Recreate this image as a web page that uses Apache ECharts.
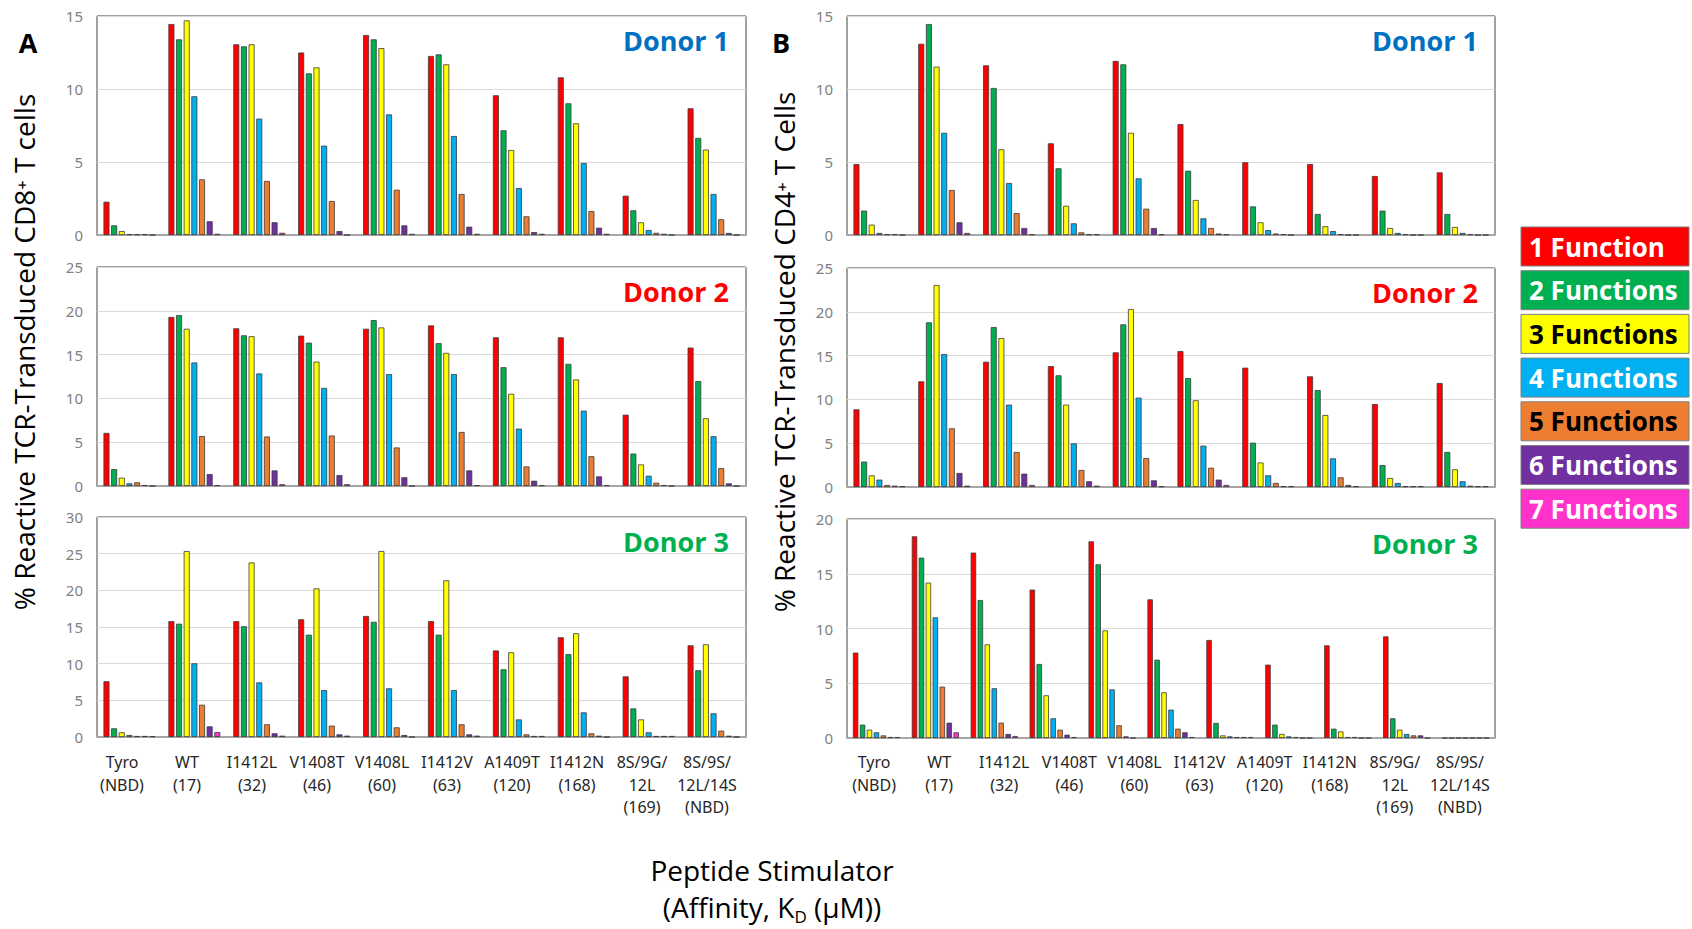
<!DOCTYPE html>
<html>
<head>
<meta charset="utf-8">
<script src="https://cdn.jsdelivr.net/npm/echarts@6.0.0/dist/echarts.min.js"></script>
<style>
html,body{margin:0;padding:0;background:#fff;}
#chart{width:1692px;height:929px;}
</style>
</head>
<body>
<div id="chart"></div>
<script>
var categories = ['Tyro\n(NBD)', 'WT\n(17)', 'I1412L\n(32)', 'V1408T\n(46)', 'V1408L\n(60)',
	'I1412V\n(63)', 'A1409T\n(120)', 'I1412N\n(168)', '8S/9G/\n12L\n(169)', '8S/9S/\n12L/14S\n(NBD)'];
var functionNames = ['1 Function', '2 Functions', '3 Functions', '4 Functions', '5 Functions', '6 Functions', '7 Functions'];
var functionColors = ['#FF0000', '#00B050', '#FFFF00', '#00B0F0', '#ED7D31', '#7030A0', '#FF33CC'];
var legendTextColors = ['#fff', '#fff', '#000', '#fff', '#000', '#fff', '#fff'];

// CD8+ (panel A), one row per number of functions
var cd8Donor1 = [
	[2.28, 14.45, 13.06, 12.5, 13.7, 12.26, 9.57, 10.8, 2.69, 8.68],
	[0.66, 13.4, 12.92, 11.07, 13.4, 12.37, 7.17, 9.02, 1.69, 6.65],
	[0.27, 14.7, 13.06, 11.48, 12.8, 11.69, 5.82, 7.65, 0.87, 5.85],
	[0.06, 9.5, 7.97, 6.12, 8.26, 6.78, 3.22, 4.93, 0.34, 2.81],
	[0.05, 3.81, 3.7, 2.33, 3.1, 2.81, 1.28, 1.64, 0.15, 1.08],
	[0.05, 0.94, 0.87, 0.27, 0.66, 0.57, 0.2, 0.5, 0.08, 0.14],
	[0, 0.08, 0.15, 0, 0.08, 0.08, 0.08, 0.08, 0, 0]
];
var cd8Donor2 = [
	[6.06, 19.3, 18.0, 17.16, 17.95, 18.33, 16.97, 16.97, 8.14, 15.8],
	[1.93, 19.5, 17.2, 16.36, 18.94, 16.3, 13.56, 13.94, 3.7, 11.97],
	[0.95, 17.95, 17.1, 14.2, 18.1, 15.2, 10.53, 12.16, 2.46, 7.73],
	[0.3, 14.1, 12.85, 11.2, 12.77, 12.77, 6.55, 8.6, 1.17, 5.68],
	[0.42, 5.7, 5.65, 5.76, 4.4, 6.17, 2.23, 3.4, 0.38, 2.05],
	[0.1, 1.36, 1.78, 1.25, 1.0, 1.78, 0.6, 1.1, 0.1, 0.3],
	[0, 0.1, 0.2, 0.2, 0, 0.1, 0.1, 0.1, 0, 0]
];
var cd8Donor3 = [
	[7.6, 15.8, 15.8, 16.05, 16.5, 15.8, 11.8, 13.6, 8.27, 12.5],
	[1.18, 15.45, 15.1, 13.95, 15.7, 13.95, 9.23, 11.3, 3.9, 9.1],
	[0.64, 25.36, 23.8, 20.27, 25.36, 21.36, 11.55, 14.14, 2.4, 12.64],
	[0.27, 10.05, 7.45, 6.4, 6.64, 6.4, 2.4, 3.36, 0.64, 3.23],
	[0.14, 4.4, 1.73, 1.55, 1.32, 1.73, 0.36, 0.5, 0.14, 0.86],
	[0.14, 1.45, 0.5, 0.36, 0.27, 0.36, 0.14, 0.18, 0.14, 0.18],
	[0.1, 0.68, 0.18, 0.18, 0, 0.18, 0.14, 0, 0.14, 0]
];
// CD4+ (panel B)
var cd4Donor1 = [
	[4.86, 13.1, 11.62, 6.28, 11.92, 7.6, 4.98, 4.86, 4.04, 4.29],
	[1.67, 14.45, 10.07, 4.57, 11.69, 4.4, 1.96, 1.44, 1.67, 1.44],
	[0.71, 11.53, 5.87, 2.0, 7.0, 2.4, 0.87, 0.6, 0.48, 0.55],
	[0.14, 7.0, 3.56, 0.8, 3.88, 1.14, 0.34, 0.27, 0.14, 0.14],
	[0.05, 3.08, 1.5, 0.18, 1.8, 0.48, 0.1, 0.05, 0.05, 0.05],
	[0.05, 0.87, 0.48, 0.05, 0.48, 0.1, 0.05, 0, 0, 0],
	[0, 0.14, 0.05, 0.05, 0.05, 0.05, 0, 0, 0, 0]
];
var cd4Donor2 = [
	[8.87, 12.06, 14.3, 13.8, 15.37, 15.52, 13.62, 12.63, 9.47, 11.87],
	[2.9, 18.8, 18.26, 12.75, 18.57, 12.44, 5.06, 11.07, 2.51, 4.0],
	[1.33, 23.06, 17.0, 9.4, 20.32, 9.9, 2.8, 8.22, 1.03, 2.02],
	[0.84, 15.18, 9.4, 4.98, 10.2, 4.72, 1.33, 3.27, 0.46, 0.65],
	[0.23, 6.7, 4.0, 1.94, 3.3, 2.2, 0.46, 1.1, 0.08, 0.15],
	[0.15, 1.6, 1.52, 0.65, 0.76, 0.84, 0.08, 0.23, 0.08, 0.08],
	[0.08, 0.15, 0.23, 0.15, 0.08, 0.23, 0.08, 0.08, 0.08, 0.08]
];
// donor 3 of panel B sits on 11 slots, the last one is empty
var cd4Donor3 = [
	[7.8, 18.42, 16.93, 13.55, 17.96, 12.66, 8.95, 6.7, 8.46, 9.28, 0],
	[1.22, 16.47, 12.6, 6.76, 15.86, 7.15, 1.37, 1.22, 0.85, 1.8, 0],
	[0.76, 14.19, 8.55, 3.9, 9.83, 4.17, 0.24, 0.37, 0.6, 0.76, 0],
	[0.52, 11.02, 4.54, 1.8, 4.44, 2.59, 0.15, 0.15, 0.09, 0.37, 0],
	[0.24, 4.69, 1.4, 0.76, 1.16, 0.85, 0.09, 0.09, 0.09, 0.24, 0],
	[0.09, 1.4, 0.37, 0.3, 0.15, 0.52, 0.09, 0, 0, 0.24, 0],
	[0.09, 0.52, 0.18, 0.09, 0, 0.09, 0.09, 0, 0, 0, 0]
];
var axisMax = [15, 25, 30, 15, 25, 20];
var donorNames = ['Donor 1', 'Donor 2', 'Donor 3', 'Donor 1', 'Donor 2', 'Donor 3'];
var donorColors = ['#0070C0', '#FF0000', '#00B050', '#0070C0', '#FF0000', '#00B050'];

var panels = [
	{data: cd8Donor1, left: 97, top: 16, width: 649, height: 219},
	{data: cd8Donor2, left: 97, top: 267, width: 649, height: 219},
	{data: cd8Donor3, left: 97, top: 517, width: 649, height: 220},
	{data: cd4Donor1, left: 847, top: 16, width: 648, height: 219},
	{data: cd4Donor2, left: 847, top: 268, width: 648, height: 219},
	{data: cd4Donor3, left: 847, top: 519, width: 648, height: 219}
];

var fontMain = "'Open Sans', 'Noto Sans', sans-serif";

var grid = [], xAxis = [], yAxis = [], series = [], graphic = [];

for (var p = 0; p < panels.length; p++) {
	var pn = panels[p];
	grid.push({left: pn.left, top: pn.top, width: pn.width, height: pn.height,
		show: true, borderColor: '#404040', borderWidth: 1, backgroundColor: '#fff'});
	xAxis.push({
		gridIndex: p, type: 'category',
		data: pn.data[0].length > categories.length ? categories.concat(['']) : categories,
		axisLine: {show: true, lineStyle: {color: '#a6a6a6', width: 2}},
		axisTick: {show: false},
		axisLabel: {show: false}
	});
	yAxis.push({
		gridIndex: p, type: 'value', min: 0, max: axisMax[p], interval: 5,
		axisLine: {show: false}, axisTick: {show: false},
		splitLine: {lineStyle: {color: '#d9d9d9', width: 1}},
		axisLabel: {color: '#7f7f7f', fontSize: 15, margin: 14, fontFamily: 'Noto Sans'}
	});
	for (var f = 0; f < functionNames.length; f++) {
		series.push({
			name: functionNames[f], type: 'bar', xAxisIndex: p, yAxisIndex: p,
			data: pn.data[f],
			barCategoryGap: '20%', barGap: '28%',
			itemStyle: {color: functionColors[f], borderColor: '#3a3a3a', borderWidth: 0.8},
			emphasis: {disabled: true}
		});
	}
	graphic.push({
		type: 'text', x: pn.left + pn.width - 17, y: pn.top + 24,
		style: {text: donorNames[p], fill: donorColors[p], font: "bold 27px " + fontMain,
			textAlign: 'right', textVerticalAlign: 'middle'}
	});
}

// label rows under each panel
var labelGrids = [{left: 89.5, width: 650}, {left: 841.5, width: 651}];
for (var k = 0; k < labelGrids.length; k++) {
	var gi = grid.length;
	grid.push({left: labelGrids[k].left, width: labelGrids[k].width, top: 737, height: 1});
	xAxis.push({
		gridIndex: gi, type: 'category', data: categories,
		axisLine: {show: false}, axisTick: {show: false},
		axisLabel: {interval: 0, color: '#262626', fontSize: 16, lineHeight: 22.5, margin: 13, fontFamily: 'Noto Sans'}
	});
	yAxis.push({gridIndex: gi, type: 'value', show: false});
}

// panel letters and axis titles
graphic.push({type: 'text', x: 28, y: 42, style: {text: 'A', font: 'bold 27px ' + fontMain, fill: '#000', textAlign: 'center', textVerticalAlign: 'middle'}});
graphic.push({type: 'text', x: 781, y: 42, style: {text: 'B', font: 'bold 27px ' + fontMain, fill: '#000', textAlign: 'center', textVerticalAlign: 'middle'}});
graphic.push({type: 'text', x: 24, y: 352, rotation: Math.PI / 2,
	style: {text: '% Reactive TCR-Transduced CD8\u207A T cells', font: '28px ' + fontMain, fill: '#000', textAlign: 'center', textVerticalAlign: 'middle'}});
graphic.push({type: 'text', x: 784, y: 352, rotation: Math.PI / 2,
	style: {text: '% Reactive TCR-Transduced CD4\u207A T Cells', font: '28px ' + fontMain, fill: '#000', textAlign: 'center', textVerticalAlign: 'middle'}});
graphic.push({type: 'text', x: 772, y: 870,
	style: {text: 'Peptide Stimulator', font: '28px ' + fontMain, fill: '#000', textAlign: 'center', textVerticalAlign: 'middle'}});
graphic.push({type: 'text', x: 772, y: 907,
	style: {text: '(Affinity, K{sub|D} (\u03BCM))', font: '28px ' + fontMain, fill: '#000', textAlign: 'center', textVerticalAlign: 'middle',
		lineHeight: 36,
		rich: {sub: {fontSize: 17, fontFamily: 'Open Sans', lineHeight: 20, verticalAlign: 'bottom'}}}});

// legend boxes
for (var i = 0; i < functionNames.length; i++) {
	graphic.push({type: 'rect', shape: {x: 1521, y: 227 + i * 43.7, width: 168, height: 39},
		style: {fill: functionColors[i], stroke: '#7f7f7f', lineWidth: 1}});
	graphic.push({type: 'text', x: 1529, y: 227 + i * 43.7 + 19.5,
		style: {text: functionNames[i], font: 'bold 26px ' + fontMain, fill: legendTextColors[i], textVerticalAlign: 'middle'}});
}

var chart = echarts.init(document.getElementById('chart'), null, {renderer: 'svg'});
chart.setOption({
	animation: false,
	grid: grid,
	xAxis: xAxis,
	yAxis: yAxis,
	series: series,
	graphic: graphic
});
</script>
</body>
</html>
